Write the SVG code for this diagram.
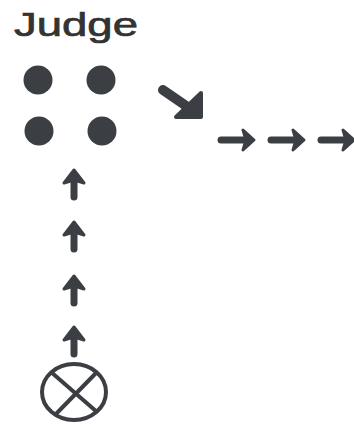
<svg xmlns="http://www.w3.org/2000/svg" width="354" height="424" viewBox="0 0 354 424">
<style>
.ink{fill:#3b3e43;stroke:#3b3e43;stroke-linejoin:round;stroke-linecap:round}
.shaft{fill:none;stroke:#3b3e43;stroke-linecap:round}
.lbl{font-family:"Liberation Sans",Arial,sans-serif;font-size:33px;fill:#333;stroke:#333;stroke-width:0.7}
</style>
<defs>
<g id="up"><path class="shaft" stroke-width="7" d="M0,8 V27"/><path class="ink" stroke-width="3" d="M0,0 L10,13 L0,10 L-10,13 Z"/></g>
<g id="right"><path class="shaft" stroke-width="7" d="M0,0 H24"/><path class="ink" stroke-width="3" d="M33,0 L22,-10 L25,0 L22,10 Z"/></g>
</defs>
<rect width="354" height="424" fill="#fff"/>
<g id="title"><text class="lbl" x="14" y="36" textLength="124" lengthAdjust="spacingAndGlyphs">Judge</text></g>
<g id="dots">
<circle cx="38" cy="80" r="14.5" fill="#3b3e43"/>
<circle cx="101" cy="80" r="14.5" fill="#3b3e43"/>
<circle cx="39" cy="131" r="14.5" fill="#3b3e43"/>
<circle cx="102" cy="131" r="14.5" fill="#3b3e43"/>
</g>
<g id="source">
<ellipse cx="74" cy="392" rx="32" ry="28" fill="none" stroke="#3b3e43" stroke-width="4"/>
<path d="M51,372 L97,412 M97,372 L55,415" stroke="#3b3e43" stroke-width="4" fill="none"/>
</g>
<g id="connectors">
<use href="#up" x="74" y="170"/>
<use href="#up" x="74" y="222"/>
<use href="#up" x="74" y="276"/>
<use href="#up" x="74" y="327"/>
<path class="shaft" stroke-width="10" d="M163,90 L195,112"/>
<path class="ink" stroke-width="4" d="M201,93 L201,117 L176,117 Z"/>
<use href="#right" x="221" y="140"/>
<use href="#right" x="271" y="140"/>
<use href="#right" x="321" y="140"/>
</g>
</svg>
